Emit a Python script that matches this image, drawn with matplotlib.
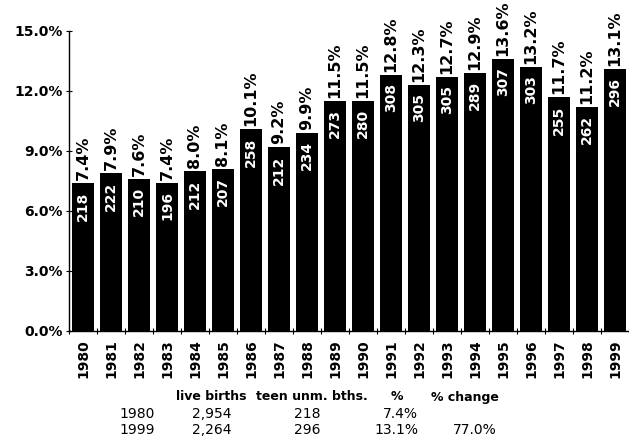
import numpy as np
import matplotlib
matplotlib.use("Agg")
import matplotlib.pyplot as plt

# ------------------------------------------------------------
# data
# ------------------------------------------------------------
years = list(range(1980, 2000))
pct = [7.4, 7.9, 7.6, 7.4, 8.0, 8.1, 10.1, 9.2, 9.9, 11.5,
       11.5, 12.8, 12.3, 12.7, 12.9, 13.6, 13.2, 11.7, 11.2, 13.1]
teen_births = [218, 222, 210, 196, 212, 207, 258, 212, 234, 273,
               280, 308, 305, 305, 289, 307, 303, 255, 262, 296]

yticks = [0, 3, 6, 9, 12, 15]

tbl_header = ["live births", "teen unm. bths.", "%", "% change"]
tbl_years = ["1980", "1999"]
tbl_live = ["2,954", "2,264"]
tbl_teen = ["218", "296"]
tbl_pct = ["7.4%", "13.1%"]
tbl_change = ["", "77.0%"]

plt.rcParams['font.family'] = ['DejaVu Sans']

W, H = 629, 446
fig = plt.figure(figsize=(W / 100, H / 100), dpi=100)
ax = fig.add_axes([69 / W, 1 - 331 / H, 560 / W, 300 / H])

x = np.arange(len(years))
bars = ax.bar(x, pct, width=0.82, color='black')

ax.set_xlim(-0.5, len(years) - 0.5)
ax.set_ylim(0, 15)

ax.set_yticks(yticks)
ax.set_yticklabels([f"{v:.1f}%" for v in yticks], fontsize=10, fontweight='bold')
ax.set_xticks(x)
ax.set_xticklabels([str(y) for y in years], rotation=90, fontsize=10,
                   fontweight='bold')
ax.tick_params(axis='x', length=0, pad=6)
ax.set_xticks(np.arange(-0.5, len(years)), minor=True)
ax.tick_params(axis='x', which='minor', direction='inout', length=5, width=0.8)
ax.tick_params(axis='y', direction='inout', length=5, width=0.8, pad=2)

for s in ['top', 'right']:
    ax.spines[s].set_visible(False)
ax.spines['left'].set_linewidth(1.0)
ax.spines['bottom'].set_linewidth(1.0)

for xi, p, n in zip(x, pct, teen_births):
    ax.annotate(f"{p:.1f}%", (xi, p), xytext=(0, 2), textcoords='offset points',
                rotation=90, ha='center', va='bottom', fontsize=11.5,
                fontweight='bold', color='black', annotation_clip=False)
    ax.annotate(str(n), (xi, p), xytext=(0, -6), textcoords='offset points',
                rotation=90, ha='center', va='top', fontsize=10,
                fontweight='bold', color='white')

# summary table below the chart
def fx(px):
    return px / W

def fy(py):
    return 1 - py / H

hdr_x = [211, 312, 397, 465]
for hx, t in zip(hdr_x, tbl_header):
    fig.text(fx(hx), fy(397), t, ha='center', va='center', fontsize=9,
             fontweight='bold')

for i, py in enumerate([414, 430]):
    fig.text(fx(155), fy(py), tbl_years[i], ha='right', va='center', fontsize=10)
    fig.text(fx(212), fy(py), tbl_live[i], ha='center', va='center', fontsize=10)
    fig.text(fx(307), fy(py), tbl_teen[i], ha='center', va='center', fontsize=10)
    fig.text(fx(418), fy(py), tbl_pct[i], ha='right', va='center', fontsize=10)
    fig.text(fx(497), fy(py), tbl_change[i], ha='right', va='center', fontsize=10)

fig.savefig("out.png", dpi=100, facecolor='white')
